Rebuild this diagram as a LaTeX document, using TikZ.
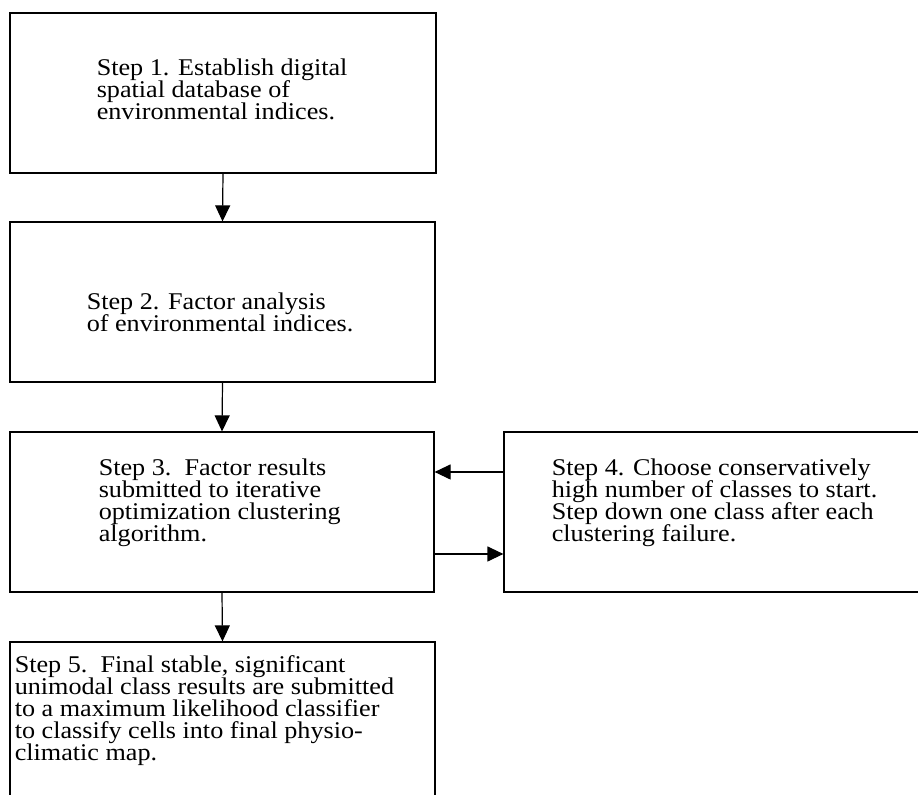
\documentclass[tikz,border=0pt]{standalone}
\usepackage{fontspec}
\setmainfont{Liberation Serif}[FakeStretch=1.09]
\usepackage{tikz}
\usetikzlibrary{positioning, arrows.meta}

\newcommand{\stepfont}{\fontsize{12pt}{11pt}\selectfont\lineskiplimit=-\maxdimen}

\begin{document}
\begin{tikzpicture}[
    x=0.5pt, y=-0.5pt,
    stepbox/.style={draw, line width=0.6pt, minimum height=80pt, inner sep=0pt},
    steptext/.style={anchor=north west, inner sep=0pt, align=left, font=\stepfont},
    flow/.style={draw, line width=0.6pt, -{Triangle[length=8pt, width=7.5pt]}}
]
\useasboundingbox (0,0) rectangle (918,795);
\clip (0,0) rectangle (918,795);

% boxes
\node[stepbox, minimum width=213pt] (b1) at (223,93) {};
\node[stepbox, minimum width=212.5pt] (b2) at (222.5,302) {};
\node[stepbox, minimum width=212pt] (b3) at (222,512) {};
\node[stepbox, minimum width=218pt] (b4) at (722,512) {};
\node[stepbox, minimum width=212.5pt, minimum height=84pt] (b5) at (222.5,726) {};

% texts
\node[steptext] (t1) at ([shift={(87,46)}]b1.north west)
    {Step 1. Establish digital\\ spatial database of\\ environmental indices.};
\node[steptext] (t2) at ([shift={(77,71)}]b2.north west)
    {Step 2. Factor analysis\\ of environmental indices.};
\node[steptext] (t3) at ([shift={(89,27)}]b3.north west)
    {Step 3.\ \ Factor results\\ submitted to iterative\\ optimization clustering\\ algorithm.};
\node[steptext] (t4) at ([shift={(48,27.5)}]b4.north west)
    {Step 4. Choose conservatively\\ high number of classes to start.\\ Step down one class after each\\ clustering failure.};
\node[steptext] (t5) at ([shift={(5,14)}]b5.north west)
    {Step 5.\ \ Final stable, significant\\ unimodal class results are submitted\\ to a maximum likelihood classifier\\ to classify cells into final physio-\\ climatic map.};

% arrows
\draw[flow] (b1.south) -- (b2.north);
\draw[flow] (b2.south) -- (b3.north);
\draw[flow] (b3.south) -- (b5.north);
\draw[flow] (b4.west |- 0,472) -- (b3.east |- 0,472);
\draw[flow] (b3.east |- 0,554) -- (b4.west |- 0,554);
\end{tikzpicture}
\end{document}
